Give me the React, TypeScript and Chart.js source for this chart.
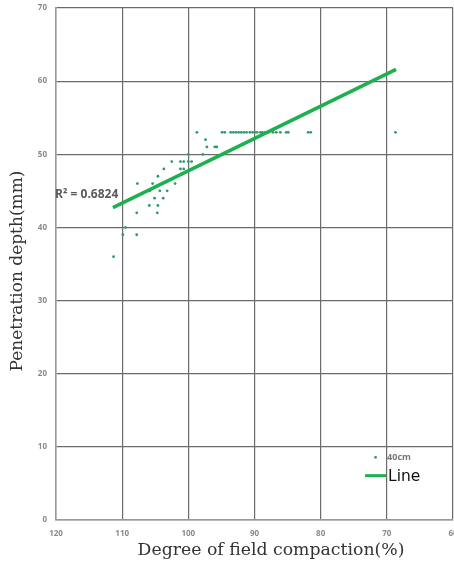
import React, { useEffect, useRef } from "react";
import { Chart, registerables } from "chart.js";

Chart.register(...registerables);

const compaction = [
  111.3, 109.9, 109.5, 107.8, 107.8, 107.7, 105.9, 104.7, 104.6, 105.1, 103.8,
  105.8, 104.3, 103.2, 105.4, 104.6, 102.0, 103.7, 102.5, 101.2, 100.7, 100.0,
  99.5, 101.2, 100.7, 100.0, 98.7, 97.4, 97.2, 96.0, 95.7, 97.8,
  94.9, 94.5, 93.6, 93.2, 92.8, 92.4, 92.0, 91.6, 91.2, 90.7, 90.3, 89.95,
  89.6, 89.1, 88.8, 88.4, 87.9, 87.2, 86.7, 86.1, 85.2, 84.9, 81.9, 81.5, 68.7,
];
const depth = [
  36, 39, 40, 39, 42, 46, 43, 42, 43, 44, 44,
  45, 45, 45, 46, 47, 46, 48, 49, 49, 49, 49,
  49, 48, 48, 50, 53, 52, 51, 51, 51, 50,
  53, 53, 53, 53, 53, 53, 53, 53, 53, 53, 53, 53,
  53, 53, 53, 53, 53, 53, 53, 53, 53, 53, 53, 53, 53,
];
const lineX = [111.4, 68.6];
const lineY = [42.7, 61.6];
const xTicks = [120, 110, 100, 90, 80, 70, 60];
const yTicks = [0, 10, 20, 30, 40, 50, 60, 70];
const seriesName = "40cm";
const lineName = "Line";
const r2Label = "R² = 0.6824";
const xTitle = "Degree of field compaction(%)";
const yTitle = "Penetration depth(mm)";

const POINT_COLOR = "#2a9a6c";
const LINE_COLOR = "#1db04e";

const overlay = {
  id: "overlay",
  afterDraw(chart: any) {
    const ctx = chart.ctx;
    const a = chart.chartArea;
    const xs = chart.scales.x;
    const ys = chart.scales.y;
    ctx.save();
    // axis titles
    ctx.fillStyle = "#333";
    ctx.font = "17.3px 'DejaVu Serif'";
    ctx.textAlign = "center";
    ctx.textBaseline = "middle";
    ctx.fillText(xTitle, 271, 551);
    ctx.font = "17px 'DejaVu Serif'";
    ctx.translate(18, 271);
    ctx.rotate(-Math.PI / 2);
    ctx.fillText(yTitle, 0, 0);
    ctx.restore();

    ctx.save();
    // R2 label
    ctx.fillStyle = "#5a5a5a";
    ctx.font = "bold 12px 'Open Sans'";
    ctx.textAlign = "left";
    ctx.textBaseline = "middle";
    ctx.fillText(r2Label, a.left - 1, ys.getPixelForValue(44.5));

    // legend
    const lx = xs.getPixelForValue(71.7);
    const ly1 = ys.getPixelForValue(8.57);
    const ly2 = ys.getPixelForValue(6.06);
    ctx.fillStyle = POINT_COLOR;
    ctx.beginPath();
    ctx.arc(lx, ly1, 1.4, 0, Math.PI * 2);
    ctx.fill();
    ctx.fillStyle = "#777";
    ctx.font = "bold 9px 'Open Sans'";
    ctx.fillText(seriesName, lx + 11.5, ly1);
    ctx.strokeStyle = LINE_COLOR;
    ctx.lineWidth = 3;
    ctx.beginPath();
    ctx.moveTo(lx - 10.5, ly2);
    ctx.lineTo(lx + 10.5, ly2);
    ctx.stroke();
    ctx.fillStyle = "#111";
    ctx.font = "15.5px 'DejaVu Sans'";
    ctx.fillText(lineName, lx + 12.5, ly2 + 1);
    ctx.restore();
  },
};

export default function App() {
  const ref = useRef<HTMLCanvasElement | null>(null);
  useEffect(() => {
    if (!ref.current) return;
    const chart = new Chart(ref.current, {
      type: "scatter",
      data: {
        datasets: [
          {
            type: "line",
            label: lineName,
            data: lineX.map((x, i) => ({ x, y: lineY[i] })),
            borderColor: LINE_COLOR,
            borderWidth: 3.5,
            pointRadius: 0,
            showLine: true,
          } as any,
          {
            label: seriesName,
            data: compaction.map((x, i) => ({ x, y: depth[i] })),
            backgroundColor: POINT_COLOR,
            borderColor: POINT_COLOR,
            pointRadius: 1.4,
            borderWidth: 0,
          },
        ],
      },
      options: {
        responsive: false,
        animation: false,
        layout: { autoPadding: false, padding: { top: 8, right: 1, left: 0, bottom: 0 } },
        plugins: { legend: { display: false }, tooltip: { enabled: false } },
        scales: {
          x: {
            type: "linear",
            min: 60,
            max: 120,
            reverse: true,
            afterBuildTicks: (s: any) => {
              s.ticks = xTicks.map((v) => ({ value: v }));
            },
            afterFit: (s: any) => {
              s.height = 45;
              s.paddingLeft = 0;
              s.paddingRight = 0;
            },
            grid: { color: "#6b6b6b", lineWidth: 1.2, drawTicks: false },
            border: { color: "#9a9a9a", width: 1.5 },
            ticks: {
              padding: 9,
              color: "#8a8a8a",
              font: { family: "'Open Sans'", size: 8, weight: "bold" },
              maxRotation: 0,
            },
          },
          y: {
            type: "linear",
            min: 0,
            max: 70,
            afterBuildTicks: (s: any) => {
              s.ticks = yTicks.map((v) => ({ value: v }));
            },
            afterFit: (s: any) => {
              s.width = 56;
              s.paddingTop = 0;
              s.paddingBottom = 0;
            },
            grid: { color: "#6b6b6b", lineWidth: 1.2, drawTicks: false },
            border: { color: "#9a9a9a", width: 1.5 },
            ticks: {
              padding: 9,
              color: "#8a8a8a",
              font: { family: "'Open Sans'", size: 8, weight: "bold" },
            },
          },
        },
      },
      plugins: [overlay],
    });
    return () => chart.destroy();
  }, []);
  return (
    <div style={{ position: "fixed", left: 0, top: 0, width: 454, height: 565, background: "#fff" }}>
      <canvas ref={ref} width={454} height={565} style={{ display: "block" }} />
    </div>
  );
}
